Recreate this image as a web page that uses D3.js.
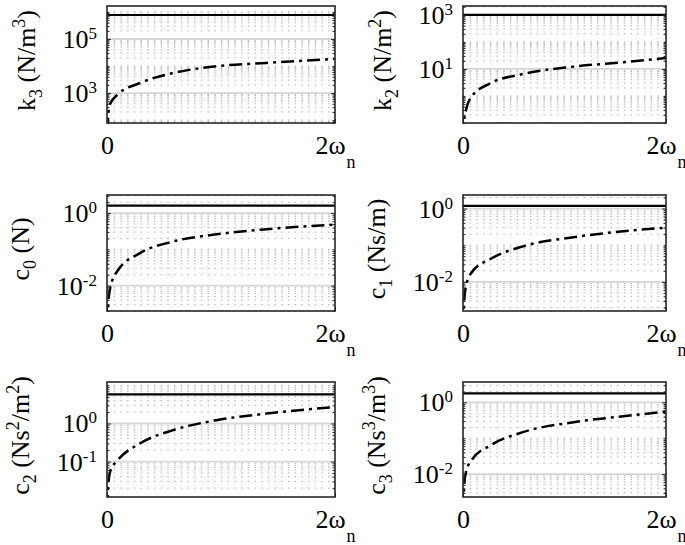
<!DOCTYPE html>
<html>
<head>
<meta charset="utf-8">
<script src="https://cdn.jsdelivr.net/npm/d3@7"></script>
<style>
  body { margin: 0; background: #fff; }
  text, tspan { font-family: 'Liberation Serif', 'DejaVu Serif', 'Times New Roman', Times, serif; }
</style>
</head>
<body>
<svg id="chart" width="685" height="545" font-family="Liberation Serif, DejaVu Serif, serif"></svg>
<script>
// x axis: frequency in units of omega_n
const xTicks = [0, 2];
const omegaLeft = [0.003, 0.012, 0.03, 0.09, 0.29, 0.58, 0.96, 1.40, 2.0];
const omegaRight = [0.003, 0.012, 0.03, 0.085, 0.27, 0.59, 1.09, 1.58, 2.0];

// dash-dot curves
const k3Curve = [40, 170, 420, 850, 2350, 5500, 9800, 13000, 18500];
const k2Curve = [0.03, 0.12, 0.30, 0.94, 2.95, 6.5, 12.2, 17.7, 25.5];
const c0Curve = [0.0008, 0.0035, 0.009, 0.025, 0.079, 0.165, 0.26, 0.36, 0.48];
const c1Curve = [0.0006, 0.003, 0.0077, 0.018, 0.042, 0.093, 0.165, 0.24, 0.30];
const c2Curve = [0.006, 0.025, 0.058, 0.105, 0.30, 0.67, 1.22, 1.82, 2.7];
const c3Curve = [0.001, 0.005, 0.0117, 0.0245, 0.063, 0.148, 0.28, 0.41, 0.55];

// solid horizontal levels
const levels = { k3: 7.7e5, k2: 1000, c0: 1.6, c1: 1.18, c2: 5.8, c3: 1.78 };

// y domains (log) and labelled decades
const yDomains = {
  k3: [78, 1.66e6], k2: [0.1, 2140], c0: [0.002, 3.16],
  c1: [0.0016, 2.34], c2: [0.0117, 12.3], c3: [0.0023, 3.7]
};
const yTickExps = { k3: [3, 5], k2: [1, 3], c0: [-2, 0], c1: [-2, 0], c2: [-1, 0], c3: [-2, 0] };

// axis titles as [text, mode] pieces
const yTitles = {
  k3: [['k', ''], ['3', 'sub'], [' (N/m', ''], ['3', 'sup'], [')', '']],
  k2: [['k', ''], ['2', 'sub'], [' (N/m', ''], ['2', 'sup'], [')', '']],
  c0: [['c', ''], ['0', 'sub'], [' (N)', '']],
  c1: [['c', ''], ['1', 'sub'], [' (Ns/m)', '']],
  c2: [['c', ''], ['2', 'sub'], [' (Ns', ''], ['2', 'sup'], ['/m', ''], ['2', 'sup'], [')', '']],
  c3: [['c', ''], ['3', 'sub'], [' (Ns', ''], ['3', 'sup'], ['/m', ''], ['3', 'sup'], [')', '']]
};

const panels = [
  { key: 'k3', omega: omegaLeft,  curve: k3Curve, col: 0, row: 0 },
  { key: 'k2', omega: omegaRight, curve: k2Curve, col: 1, row: 0 },
  { key: 'c0', omega: omegaLeft,  curve: c0Curve, col: 0, row: 1 },
  { key: 'c1', omega: omegaRight, curve: c1Curve, col: 1, row: 1 },
  { key: 'c2', omega: omegaLeft,  curve: c2Curve, col: 0, row: 2 },
  { key: 'c3', omega: omegaRight, curve: c3Curve, col: 1, row: 2 }
];

// layout
const cols = [[107, 335], [463, 666]];
const rows = [[6, 123], [195, 311], [382, 497]];
const fontBig = 26, fontSmall = 17;

const svg = d3.select('#chart');

function richText(sel, pieces, size, small, subDy, supDy) {
  let cur = 0;
  pieces.forEach(([t, m]) => {
    const target = m === 'sub' ? subDy : (m === 'sup' ? supDy : 0);
    sel.append('tspan')
      .attr('dy', target - cur)
      .attr('font-size', m ? small : size)
      .text(t);
    cur = target;
  });
}

function minorValues(domain, majors) {
  const out = [];
  const lo = Math.floor(Math.log10(domain[0])), hi = Math.ceil(Math.log10(domain[1]));
  for (let e = lo; e <= hi; e++) {
    for (let m = 1; m <= 9; m++) {
      const v = m * Math.pow(10, e);
      if (v < domain[0] || v > domain[1]) continue;
      if (majors.some(t => Math.abs(t - v) / v < 1e-9)) continue;
      out.push(v);
    }
  }
  return out;
}

panels.forEach((p, i) => {
  const [x0, x1] = cols[p.col];
  const [y0, y1] = rows[p.row];
  const x = d3.scaleLinear().domain([0, 2]).range([x0, x1]);
  const y = d3.scaleLog().domain(yDomains[p.key]).range([y1, y0]);
  const majors = yTickExps[p.key].map(e => Math.pow(10, e));
  const minors = minorValues(yDomains[p.key], majors);

  const g = svg.append('g');

  g.append('clipPath').attr('id', 'clip' + i)
    .append('rect').attr('x', x0).attr('y', y0).attr('width', x1 - x0).attr('height', y1 - y0);

  // grid
  g.append('g').selectAll('line').data(minors).join('line')
    .attr('x1', x0).attr('x2', x1)
    .attr('y1', d => y(d)).attr('y2', d => y(d))
    .attr('stroke', '#b0b0b0').attr('stroke-width', 1)
    .attr('stroke-dasharray', '1.5,5.2');
  g.append('g').selectAll('line').data(majors).join('line')
    .attr('x1', x0).attr('x2', x1)
    .attr('y1', d => y(d)).attr('y2', d => y(d))
    .attr('stroke', '#d6d6d6').attr('stroke-width', 1.8);

  // solid level
  g.append('line')
    .attr('x1', x(0)).attr('x2', x(2))
    .attr('y1', y(levels[p.key])).attr('y2', y(levels[p.key]))
    .attr('stroke', '#000').attr('stroke-width', 2.2);

  // dash-dot curve
  const pts = p.omega.map((w, j) => [w, p.curve[j]]);
  g.append('path')
    .datum(pts)
    .attr('clip-path', `url(#clip${i})`)
    .attr('fill', 'none')
    .attr('stroke', '#000')
    .attr('stroke-width', 2.5)
    .attr('stroke-dasharray', '13,5,3,5')
    .attr('d', d3.line().x(d => x(d[0])).y(d => y(d[1])).curve(d3.curveMonotoneX));

  // axes (ticks inward)
  g.append('g').attr('transform', `translate(${x0},0)`)
    .call(d3.axisLeft(y).tickValues(majors).tickFormat('').tickSizeInner(-4).tickSizeOuter(0));
  g.append('g').attr('transform', `translate(${x0},0)`)
    .call(d3.axisLeft(y).tickValues(minors).tickFormat('').tickSizeInner(-2.5).tickSizeOuter(0));
  g.append('g').attr('transform', `translate(${x1},0)`)
    .call(d3.axisRight(y).tickValues(majors).tickFormat('').tickSizeInner(-4).tickSizeOuter(0));
  g.append('g').attr('transform', `translate(${x1},0)`)
    .call(d3.axisRight(y).tickValues(minors).tickFormat('').tickSizeInner(-2.5).tickSizeOuter(0));
  const axB = g.append('g').attr('transform', `translate(0,${y1})`)
    .call(d3.axisBottom(x).tickValues(xTicks).tickFormat('').tickSizeInner(-4).tickSizeOuter(0));
  g.selectAll('.domain').remove();
  g.selectAll('.tick line').attr('stroke', '#262626').attr('stroke-width', 1);

  // frame
  g.append('rect')
    .attr('x', x0).attr('y', y0).attr('width', x1 - x0).attr('height', y1 - y0)
    .attr('fill', 'none').attr('stroke', '#262626').attr('stroke-width', 1.6);

  // y tick labels 10^e
  const labels = g.append('g');
  yTickExps[p.key].forEach(e => {
    const t = labels.append('text')
      .attr('x', x0 - 10).attr('y', y(Math.pow(10, e)) + 9)
      .attr('text-anchor', 'end').attr('fill', '#000');
    richText(t, [['10', ''], [String(e), 'sup']], fontBig, fontSmall, 0, -9);
  });

  // x tick labels
  axB.selectAll('.tick').each(function (d) {
    const tk = d3.select(this);
    if (d === 0) {
      tk.append('text').attr('y', 31).attr('text-anchor', 'middle')
        .attr('fill', '#000').attr('font-size', fontBig).text('0');
    } else {
      tk.append('text').attr('x', -5).attr('y', 31).attr('text-anchor', 'middle')
        .attr('fill', '#000').attr('font-size', fontBig).text(d + 'ω');
      tk.append('text').attr('x', 11).attr('y', 45).attr('text-anchor', 'start')
        .attr('fill', '#000').attr('font-size', fontSmall + 1).text('n');
    }
  });

  // y title
  const bb = labels.node().getBBox();
  const title = g.append('text')
    .attr('transform', `translate(${bb.x - 28},${(y0 + y1) / 2 - 4}) rotate(-90)`)
    .attr('text-anchor', 'middle').attr('fill', '#000');
  richText(title, yTitles[p.key], fontBig, fontSmall + 1, 7, -10);
});
</script>
</body>
</html>
